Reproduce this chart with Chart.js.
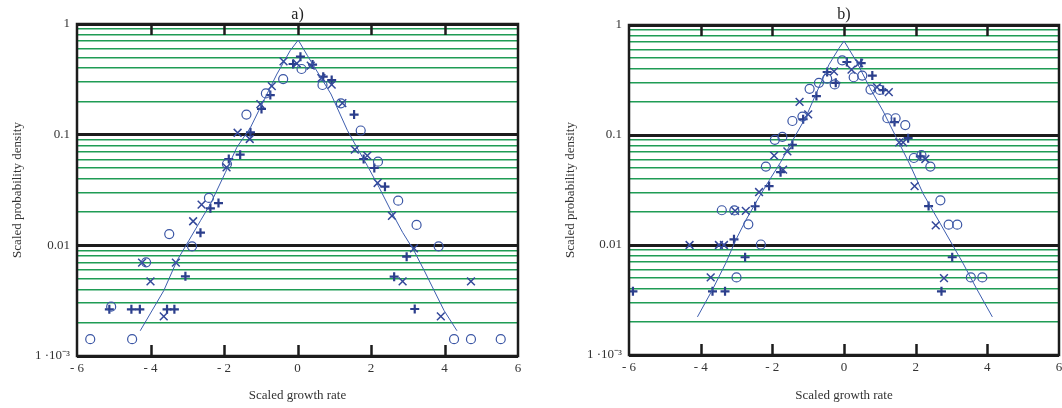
<!DOCTYPE html>
<html>
<head>
<meta charset="utf-8">
<script src="https://cdn.jsdelivr.net/npm/chart.js@4"></script>
<style>
  html, body { margin: 0; padding: 0; background: #fff; overflow: hidden; width: 1062px; height: 408px; }
  .panel { position: absolute; top: 0; }
</style>
</head>
<body>
<div class="panel" style="left:0"><canvas id="chartA" width="530" height="408"></canvas></div>
<div class="panel" style="left:530px"><canvas id="chartB" width="545" height="408"></canvas></div>
<script>
// panel a)
const aCircleX = [-5.64, -4.50, -5.07, -4.12, -3.49, -2.87, -2.41, -1.92, -1.39, -0.86, -0.39, 0.11, 0.68, 1.18, 1.72, 2.19, 2.74, 3.24, 3.84, 4.26, 4.72, 5.53];
const aCircleY = [0.00142, 0.00142, 0.00279, 0.00702, 0.01265, 0.0098, 0.0268, 0.0543, 0.152, 0.236, 0.318, 0.392, 0.281, 0.192, 0.109, 0.057, 0.0253, 0.0153, 0.0098, 0.00142, 0.00142, 0.00142];
const aCrossX = [-4.23, -4.00, -3.64, -3.31, -2.84, -2.61, -1.93, -1.63, -1.30, -1.01, -0.70, -0.38, -0.02, 0.36, 0.65, 0.93, 1.22, 1.56, 1.90, 2.18, 2.57, 2.86, 3.17, 3.90, 4.72];
const aCrossY = [0.00697, 0.00473, 0.00228, 0.00697, 0.0165, 0.0233, 0.0507, 0.104, 0.0914, 0.189, 0.275, 0.460, 0.44, 0.42, 0.325, 0.283, 0.193, 0.0732, 0.0646, 0.0366, 0.0185, 0.00473, 0.0094, 0.00228, 0.00473];
const aPlusX = [-5.12, -4.52, -4.29, -3.55, -3.35, -3.05, -2.64, -2.37, -2.15, -1.87, -1.56, -1.28, -0.98, -0.74, -0.12, 0.08, 0.41, 0.70, 0.93, 1.54, 1.80, 2.09, 2.38, 2.63, 2.97, 3.19];
const aPlusY = [0.00264, 0.00264, 0.00264, 0.00264, 0.00264, 0.00525, 0.0130, 0.0216, 0.0241, 0.0603, 0.066, 0.105, 0.171, 0.228, 0.435, 0.507, 0.43, 0.334, 0.312, 0.152, 0.0603, 0.050, 0.0339, 0.00521, 0.0079, 0.00266];
const aLineX = [-4.28, -3.64, -3.28, -2.96, -2.64, -2.37, -1.96, -1.65, -1.28, -0.92, -0.56, -0.20, 0.02, 0.27, 0.91, 1.36, 1.59, 1.90, 2.22, 2.54, 2.86, 3.17, 3.45, 3.72, 3.99, 4.34];
const aLineY = [0.00169, 0.00389, 0.00726, 0.0110, 0.0167, 0.0236, 0.0457, 0.0769, 0.116, 0.203, 0.353, 0.574, 0.716, 0.518, 0.233, 0.109, 0.0794, 0.0525, 0.0334, 0.0206, 0.0131, 0.00895, 0.0059, 0.00389, 0.00257, 0.00169];

// panel b)
const bCircleX = [-3.41, -3.06, -2.67, -2.32, -3.00, -2.18, -1.93, -1.72, -1.44, -1.16, -0.96, -0.70, -0.47, -0.26, -0.05, 0.27, 0.51, 0.74, 1.00, 1.21, 1.44, 1.71, 1.95, 2.16, 2.41, 2.69, 2.92, 3.16, 3.54, 3.86];
const bCircleY = [0.0207, 0.0206, 0.0154, 0.0101, 0.00507, 0.0516, 0.0904, 0.0962, 0.134, 0.147, 0.263, 0.298, 0.326, 0.288, 0.477, 0.335, 0.347, 0.259, 0.257, 0.142, 0.142, 0.123, 0.0618, 0.0658, 0.0516, 0.0255, 0.0153, 0.0153, 0.00507, 0.00507];
const bCrossX = [-4.31, -3.49, -3.35, -3.72, -3.04, -2.74, -2.37, -1.95, -1.70, -1.58, -1.24, -1.00, -0.28, 0.21, 0.42, 0.92, 1.25, 1.54, 1.65, 1.97, 2.27, 2.56, 2.79];
const bCrossY = [0.01, 0.01, 0.01, 0.00507, 0.0204, 0.0204, 0.0303, 0.0649, 0.0485, 0.071, 0.2, 0.154, 0.379, 0.393, 0.451, 0.272, 0.245, 0.0856, 0.0856, 0.0343, 0.0605, 0.0151, 0.005];
const bPlusX = [-5.89, -3.67, -3.32, -3.07, -2.76, -2.48, -2.09, -1.77, -1.44, -1.14, -0.77, -0.47, -0.23, 0.08, 0.48, 0.79, 1.09, 1.41, 1.79, 2.13, 2.36, 2.72, 3.02];
const bPlusY = [0.00379, 0.00379, 0.00379, 0.01125, 0.00774, 0.0225, 0.0343, 0.0459, 0.0815, 0.139, 0.226, 0.374, 0.298, 0.461, 0.451, 0.347, 0.256, 0.131, 0.0936, 0.064, 0.0226, 0.00379, 0.00774];
const bLineX = [-4.09, -3.67, -3.30, -3.02, -2.74, -2.37, -2.09, -1.77, -1.44, -1.07, -0.79, -0.42, -0.14, 0.0, 0.345, 0.72, 1.09, 1.46, 1.83, 2.21, 2.58, 2.95, 3.32, 3.69, 4.14];
const bLineY = [0.00222, 0.00393, 0.00684, 0.0111, 0.0168, 0.0273, 0.0385, 0.0565, 0.0885, 0.144, 0.233, 0.436, 0.615, 0.716, 0.467, 0.269, 0.165, 0.0948, 0.0546, 0.0292, 0.018, 0.0111, 0.00684, 0.00406, 0.00222];

const xTicks = [-6, -4, -2, 0, 2, 4, 6];
const yMajor = [0.001, 0.01, 0.1, 1];
const yLabels = { 0.001: "1 \u00b710\u207b\u00b3", 0.01: "0.01", 0.1: "0.1", 1: "1" };
const xTitle = "Scaled growth rate";
const yTitle = "Scaled probability density";

const SERIF = '"Liberation Serif", "Times New Roman", serif';
const pts = (xs, ys) => xs.map((x, i) => ({ x, y: ys[i] }));

// frame, inward ticks and the panel letter
const framePlugin = {
  id: "frame",
  afterDraw(chart, args, opts) {
    const { ctx, chartArea: a, scales: { x } } = chart;
    ctx.save();
    ctx.strokeStyle = "#1c1c1c";
    ctx.lineWidth = 2.5;
    ctx.strokeRect(a.left, a.top, a.right - a.left, a.bottom - a.top);
    xTicks.slice(1, -1).forEach(v => {
      const px = Math.round(x.getPixelForValue(v)) + 0.5;
      ctx.beginPath();
      ctx.moveTo(px, a.top); ctx.lineTo(px, a.top + 11);
      ctx.moveTo(px, a.bottom); ctx.lineTo(px, a.bottom - 11);
      ctx.stroke();
    });
    ctx.fillStyle = "#222";
    ctx.font = "16px " + SERIF;
    ctx.textAlign = "center";
    ctx.textBaseline = "middle";
    ctx.fillText(opts.text, x.getPixelForValue(0), 15);
    ctx.restore();
  }
};

function makeChart(id, letter, d, box) {
  return new Chart(document.getElementById(id), {
    type: "scatter",
    data: {
      datasets: [
        { data: pts(d.lx, d.ly), showLine: true, borderColor: "#3d5dae", borderWidth: 1, pointRadius: 0, tension: 0 },
        { data: pts(d.cx, d.cy), pointStyle: "circle", pointRadius: 4.5, borderWidth: 1.2, borderColor: "#3b56a5", backgroundColor: "rgba(0,0,0,0)" },
        { data: pts(d.xx, d.xy), pointStyle: "crossRot", pointRadius: 5.5, borderWidth: 1.5, borderColor: "#34489a" },
        { data: pts(d.px, d.py), pointStyle: "cross", pointRadius: 4.5, borderWidth: 2.2, borderColor: "#2b3e8c" }
      ]
    },
    plugins: [framePlugin],
    options: {
      responsive: false,
      animation: false,
      events: [],
      layout: { padding: { top: box.top, right: box.right, bottom: 0, left: 0 } },
      plugins: { legend: { display: false }, tooltip: { enabled: false }, frame: { text: letter } },
      scales: {
        x: {
          type: "linear", min: -6, max: 6,
          afterBuildTicks: s => { s.ticks = xTicks.map(v => ({ value: v })); },
          afterFit: s => { s.height = box.xh; },
          grid: { display: false, drawTicks: false },
          border: { display: false },
          ticks: {
            padding: 5, color: "#333", font: { family: SERIF, size: 13 },
            callback: v => v < 0 ? "- " + Math.abs(v) : String(v)
          },
          title: { display: true, text: xTitle, color: "#333", font: { family: SERIF, size: 13 }, padding: { top: 0, bottom: 5 } }
        },
        y: {
          type: "logarithmic", min: 0.001, max: 1,
          afterBuildTicks: s => {
            const t = [];
            [0.001, 0.01, 0.1].forEach(p => { for (let k = 1; k <= 9; k++) t.push({ value: +(p * k).toPrecision(3) }); });
            t.push({ value: 1 });
            s.ticks = t;
          },
          afterFit: s => { s.width = box.yw; },
          grid: {
            drawTicks: false,
            color: c => yMajor.includes(c.tick.value) ? "#1c1c1c" : "#1f9c55",
            lineWidth: c => yMajor.includes(c.tick.value) ? 3 : 1.4
          },
          border: { display: false },
          ticks: {
            padding: 7, color: "#333", font: { family: SERIF, size: 13 }, autoSkip: false,
            callback: v => yLabels[v] !== undefined ? yLabels[v] : ""
          },
          title: { display: true, text: yTitle, color: "#333", font: { family: SERIF, size: 13 }, padding: { top: box.tp, bottom: 0 } }
        }
      }
    }
  });
}

makeChart("chartA", "a)",
  { lx: aLineX, ly: aLineY, cx: aCircleX, cy: aCircleY, xx: aCrossX, xy: aCrossY, px: aPlusX, py: aPlusY },
  { top: 24, right: 12, xh: 52, yw: 77, tp: 10 });
makeChart("chartB", "b)",
  { lx: bLineX, ly: bLineY, cx: bCircleX, cy: bCircleY, xx: bCrossX, xy: bCrossY, px: bPlusX, py: bPlusY },
  { top: 25, right: 16, xh: 53, yw: 99, tp: 33 });
</script>
</body>
</html>
